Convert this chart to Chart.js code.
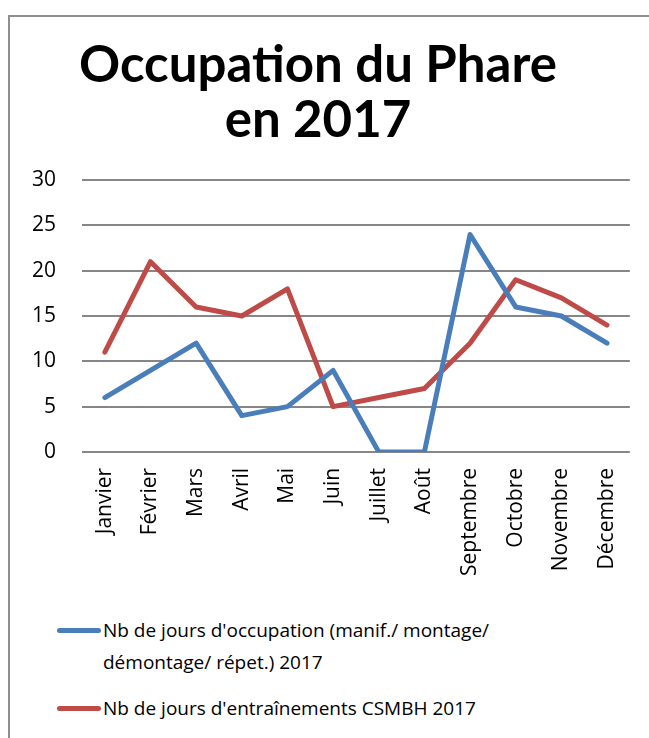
<!DOCTYPE html>
<html>
<head>
<meta charset="utf-8">
<script src="https://cdn.jsdelivr.net/npm/chart.js@4/dist/chart.umd.min.js"></script>
<style>
  html, body { margin: 0; padding: 0; background: #fff; }
  body { width: 649px; height: 738px; overflow: hidden; position: relative; font-family: "Open Sans", sans-serif; }
  #frame { position: absolute; left: 8px; top: 15px; width: 700px; height: 800px; border-left: 2px solid #8f8f8f; border-top: 2px solid #8f8f8f; }
  #wrap { position: absolute; left: 0; top: 0; width: 649px; height: 610px; }
  .leg { position: absolute; left: 0; font-size: 19px; color: #000; line-height: 32px; }
  .sw { position: absolute; width: 44px; height: 5px; border-radius: 3px; }
  .lt { position: absolute; left: 103px; white-space: nowrap; }
</style>
</head>
<body>
<div id="frame"></div>
<div id="wrap"><canvas id="c" width="649" height="610"></canvas></div>
<div id="legend"></div>
<script>
const titleLines = ["Occupation du Phare", "en 2017"];
const months = ["Janvier","Février","Mars","Avril","Mai","Juin","Juillet","Août","Septembre","Octobre","Novembre","Décembre"];
const seriesNames = ["Nb de jours d'occupation (manif./ montage/ démontage/ répet.) 2017", "Nb de jours d'entraînements CSMBH 2017"];
const occupation = [6, 9, 12, 4, 5, 9, 0, 0, 24, 16, 15, 12];
const entrainements = [11, 21, 16, 15, 18, 5, 6, 7, 12, 19, 17, 14];
const yTicks = [0, 5, 10, 15, 20, 25, 30];
const colors = ["#4a7ebb", "#be4b48"];

// HTML legend (wrapped text like the original)
const legend = document.getElementById('legend');
const legendLines = [["Nb de jours d'occupation (manif./ montage/", "démontage/ répet.) 2017"], ["Nb de jours d'entraînements CSMBH 2017"]];
const legendTops = [614, 692];
legendLines.forEach((lines, i) => {
  const sw = document.createElement('div');
  sw.className = 'sw';
  sw.style.left = '57px';
  sw.style.top = (legendTops[i] + 14) + 'px';
  sw.style.background = colors[i];
  legend.appendChild(sw);
  lines.forEach((t, j) => {
    const d = document.createElement('div');
    d.className = 'leg lt';
    d.style.top = (legendTops[i] + j * 32) + 'px';
    d.textContent = t;
    legend.appendChild(d);
  });
});

new Chart(document.getElementById('c'), {
  type: 'line',
  data: {
    labels: months,
    datasets: [
      { label: seriesNames[0], data: occupation, borderColor: colors[0], backgroundColor: colors[0], borderWidth: 5, pointRadius: 0, tension: 0, borderCapStyle: 'round', borderJoinStyle: 'round' },
      { label: seriesNames[1], data: entrainements, borderColor: colors[1], backgroundColor: colors[1], borderWidth: 5, pointRadius: 0, tension: 0, borderCapStyle: 'round', borderJoinStyle: 'round' }
    ]
  },
  options: {
    responsive: false,
    animation: false,
    events: [],
    layout: { padding: { left: 6, right: 19, top: 39, bottom: 18 } },
    plugins: {
      legend: { display: false },
      tooltip: { enabled: false },
      title: {
        display: true,
        text: titleLines,
        color: '#000',
        font: { family: 'Lato', weight: 'bold', size: 51, lineHeight: 1.06 },
        padding: { top: 0, bottom: 33 }
      }
    },
    scales: {
      x: {
        offset: true,
        grid: { display: false, drawTicks: false },
        border: { display: false },
        ticks: { color: '#000', font: { family: 'Open Sans', size: 21 }, minRotation: 90, maxRotation: 90, padding: 16, autoSkip: false }
      },
      y: {
        min: 0, max: 30,
        afterBuildTicks: (s) => { s.ticks = yTicks.map(v => ({ value: v })); },
        grid: { color: '#868686', lineWidth: 2, drawTicks: false },
        border: { display: false },
        ticks: { color: '#000', font: { family: 'Open Sans', size: 21 }, padding: 26 }
      }
    }
  }
});
</script>
</body>
</html>
